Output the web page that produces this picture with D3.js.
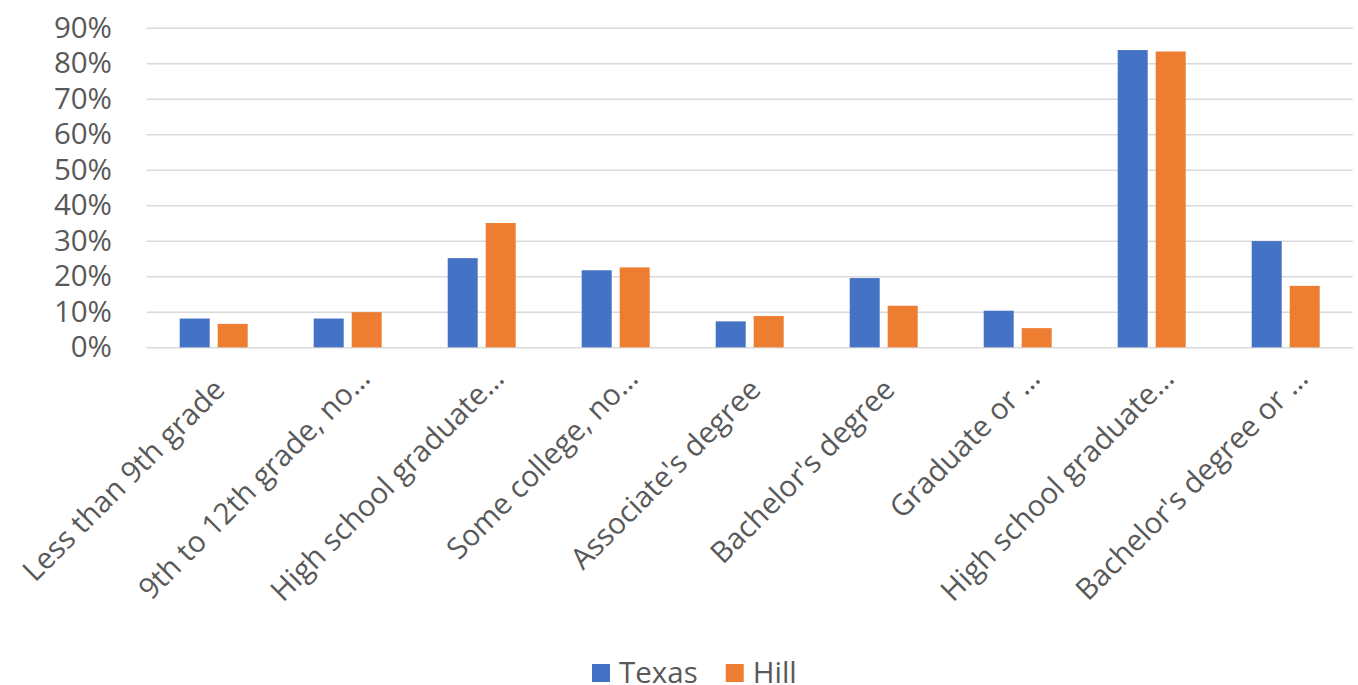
<!DOCTYPE html>
<html>
<head>
<meta charset="utf-8">
<script src="https://cdn.jsdelivr.net/npm/d3@7"></script>
<style>
  html, body { margin: 0; padding: 0; background: #ffffff; }
  svg { display: block; }
  text { font-family: "Open Sans", "Noto Sans", sans-serif; fill: #595959; }
</style>
</head>
<body>
<svg id="chart" width="1358" height="685"></svg>
<script>
// ---- data ----
const categories = [
  "Less than 9th grade",
  "9th to 12th grade, no\u2026",
  "High school graduate\u2026",
  "Some college, no\u2026",
  "Associate's degree",
  "Bachelor's degree",
  "Graduate or \u2026",
  "High school graduate\u2026",
  "Bachelor's degree or \u2026"
];
const seriesNames = ["Texas", "Hill"];
const texasValues = [0.081, 0.081, 0.251, 0.217, 0.073, 0.195, 0.103, 0.837, 0.299];
const hillValues  = [0.066, 0.099, 0.350, 0.225, 0.088, 0.117, 0.054, 0.833, 0.173];
const yTickValues = [0, 0.1, 0.2, 0.3, 0.4, 0.5, 0.6, 0.7, 0.8, 0.9];
const seriesColors = ["#4472C4", "#ED7D31"];

// ---- layout ----
const svg = d3.select("#chart");
const plotLeft = 146.7, plotRight = 1352.7, plotTop = 27.7, plotBottom = 347.3;
const fontSize = 29.5;
const fontFamily = '"Open Sans", "Noto Sans", sans-serif';

const catIndex = d3.range(categories.length);
const x0 = d3.scaleBand().domain(catIndex).range([plotLeft, plotRight]).padding(0);
const groupWidth = 68;
const x1 = d3.scaleBand().domain(seriesNames)
  .range([(x0.bandwidth() - groupWidth) / 2, (x0.bandwidth() + groupWidth) / 2])
  .paddingInner(8 / 38);
const y = d3.scaleLinear().domain([0, 0.9]).range([plotBottom, plotTop]);
const color = d3.scaleOrdinal().domain(seriesNames).range(seriesColors);

// gridlines
const grid = svg.append("g").attr("transform", `translate(${plotLeft},0)`)
  .call(d3.axisLeft(y).tickValues(yTickValues).tickSize(-(plotRight - plotLeft)).tickFormat(""));
grid.select(".domain").remove();
grid.selectAll(".tick line").attr("stroke", "#D9D9D9").attr("stroke-width", 1.6);

// y labels
const yAxis = svg.append("g").attr("transform", `translate(112,0)`)
  .call(d3.axisLeft(y).tickValues(yTickValues).tickSize(0).tickPadding(0).tickFormat(d3.format(".0%")));
yAxis.select(".domain").remove();
yAxis.selectAll("text").attr("font-size", fontSize).attr("fill", "#595959")
  .style("font-family", fontFamily);

// bars
const rows = catIndex.map(i => ({ idx: i, values: [
  { series: "Texas", value: texasValues[i] },
  { series: "Hill", value: hillValues[i] }
]}));
const groups = svg.append("g").selectAll("g").data(rows).join("g")
  .attr("transform", d => `translate(${x0(d.idx)},0)`);
groups.selectAll("rect").data(d => d.values).join("rect")
  .attr("x", d => x1(d.series))
  .attr("width", x1.bandwidth())
  .attr("y", d => y(d.value))
  .attr("height", d => y(0) - y(d.value))
  .attr("fill", d => color(d.series));

// x labels
const xAxis = svg.append("g").attr("transform", `translate(0,${plotBottom})`)
  .call(d3.axisBottom(x0).tickSize(0).tickFormat(i => categories[i]));
xAxis.select(".domain").remove();
xAxis.selectAll("text")
  .attr("font-size", fontSize)
  .attr("fill", "#595959")
  .style("font-family", fontFamily)
  .attr("text-anchor", "end")
  .attr("y", 0)
  .attr("dy", 0)
  .attr("dx", i => categories[i].endsWith("\u2026") ? 0 : -16)
  .attr("transform", "translate(24,33) rotate(-45)");

// legend
const legend = svg.append("g").attr("class", "legend");
let lx = 592;
seriesNames.forEach(name => {
  const item = legend.append("g");
  item.append("rect").attr("x", lx).attr("y", 664).attr("width", 18).attr("height", 18)
    .attr("fill", color(name));
  const t = item.append("text").attr("x", lx + 27).attr("y", 683)
    .attr("font-size", fontSize).style("font-family", fontFamily).text(name);
  lx += 27 + t.node().getComputedTextLength() + 28;
});
</script>
</body>
</html>
